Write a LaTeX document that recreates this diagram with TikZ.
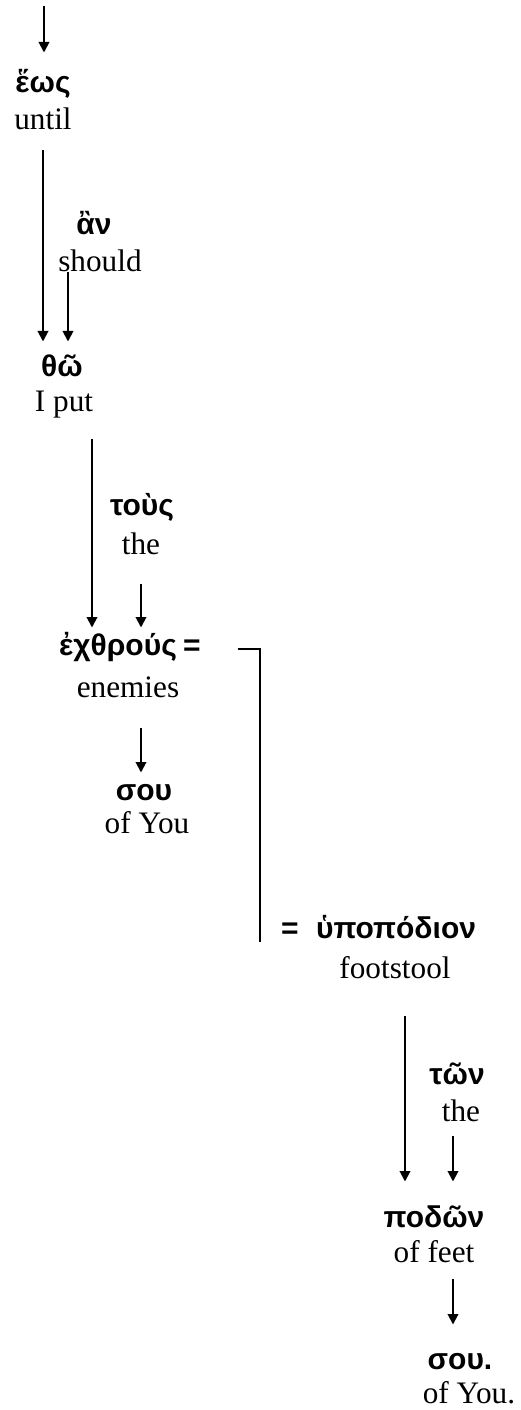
\documentclass[tikz,border=0pt]{standalone}
\usepackage{fontspec}
\setmainfont{Liberation Serif}
\newfontfamily\grkfont{Liberation Sans}
\usetikzlibrary{arrows.meta}

\begin{document}
\begin{tikzpicture}[
  x=0.4pt, y=-0.4pt,
  grk/.style={font=\grkfont\bfseries\fontsize{12}{14}\selectfont, anchor=base, inner sep=0pt, text height=9pt, text depth=2.5pt},
  eng/.style={font=\fontsize{12.5}{15}\selectfont, anchor=base, inner sep=0pt, text height=9pt, text depth=2.5pt},
  arr/.style={-{Triangle[length=4.2pt, width=4.2pt]}, line width=0.8pt},
  brk/.style={line width=0.8pt},
]
  \useasboundingbox (0,0) rectangle (520,1410);
  \coordinate (entry) at (44,6);
  \node[grk] (heos) at (43,93) {ἕως};
  \node[eng] (until) at (43,130) {until};
  \node[grk] (an) at (94,235) {ἂν};
  \node[eng] (should) at (100,272) {should};
  \node[grk] (tho) at (62,377) {θῶ};
  \node[eng] (iput) at (64,412) {I put};
  \node[grk] (tous) at (142,516) {τοὺς};
  \node[eng] (the) at (141,554) {the};
  \node[grk] (echthrous) at (118,655) {ἐχθρούς};
  \node[grk] (eqa) at (192,655) {=};
  \node[eng] (enemies) at (128,697) {enemies};
  \node[grk] (sou) at (144,800) {σου};
  \node[eng] (ofyou) at (147,833) {of You};
  \node[grk] (eqb) at (290,938) {=};
  \node[grk] (hypopodion) at (396,938) {ὑποπόδιον};
  \node[eng] (footstool) at (395,978) {footstool};
  \node[grk] (ton) at (457,1084) {τῶν};
  \node[eng] (thepl) at (461,1121) {the};
  \node[grk] (podon) at (434,1227) {ποδῶν};
  \node[eng] (offeet) at (434,1262) {of feet};
  \node[grk] (soub) at (460,1369) {σου.};
  \node[eng] (ofyoub) at (469,1403) {of You.};
  % arrows
  \draw[arr, shorten >=7pt] (entry) -- (entry |- heos.north);
  \draw[arr, shorten <=5.5pt, shorten >=5pt] (until.south) -- (until.south |- tho.north);
  \draw[arr, shorten >=5pt] ([xshift=-12.8pt]should.base) -- ([xshift=-12.8pt]should.base |- tho.north);
  \draw[arr, shorten <=8pt, shorten >=1.8pt] ([xshift=11.2pt]iput.south) -- ([xshift=11.2pt]iput.south |- echthrous.north);
  \draw[arr, shorten <=9.2pt, shorten >=1.8pt] (the.south) -- (the.south |- echthrous.north);
  \draw[arr, shorten <=9.6pt, shorten >=1.8pt] ([xshift=5.2pt]enemies.south) -- ([xshift=5.2pt]enemies.south |- sou.north);
  \draw[brk] ([xshift=14.5pt,yshift=-0.8pt]eqa.east) -| ([xshift=-8.1pt,yshift=-4.8pt]eqb.west);
  \draw[arr, shorten <=12.4pt, shorten >=9pt] ([xshift=4pt]footstool.south) -- ([xshift=4pt]footstool.south |- podon.north);
  \draw[arr, shorten <=3.2pt, shorten >=9pt] ([xshift=-3.2pt]thepl.south) -- ([xshift=-3.2pt]thepl.south |- podon.north);
  \draw[arr, shorten <=4pt, shorten >=8.6pt] ([xshift=7.6pt]offeet.south) -- ([xshift=7.6pt]offeet.south |- soub.north);
\end{tikzpicture}
\end{document}
